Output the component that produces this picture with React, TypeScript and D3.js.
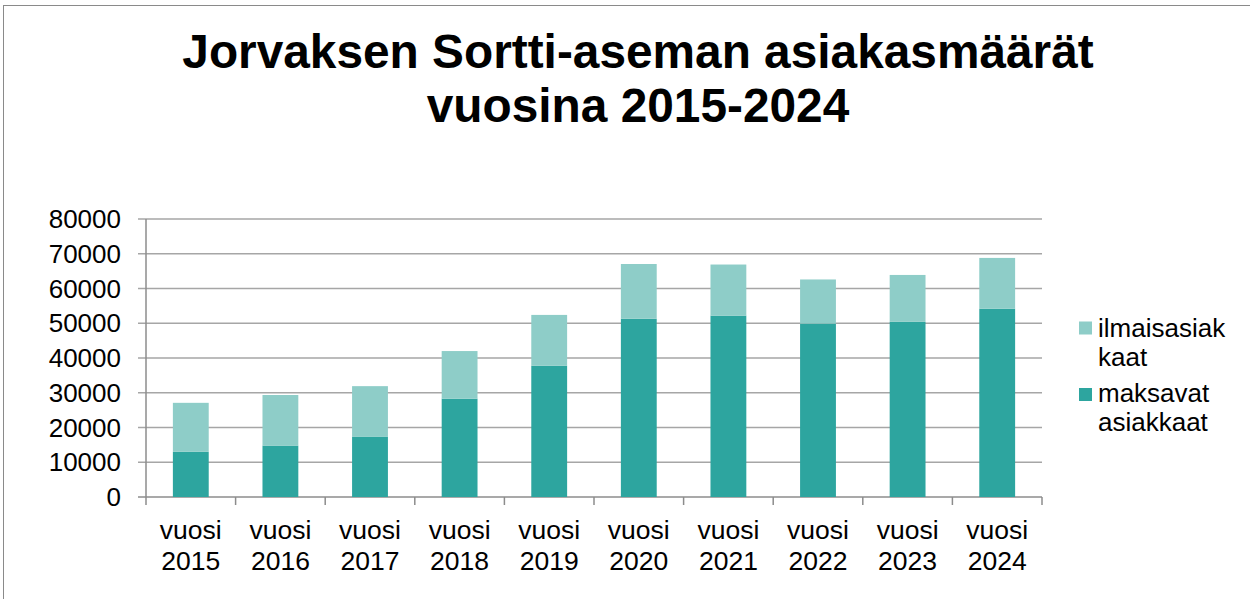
import React from "react";
import * as d3 from "d3";

const categories = ["vuosi 2015", "vuosi 2016", "vuosi 2017", "vuosi 2018", "vuosi 2019", "vuosi 2020", "vuosi 2021", "vuosi 2022", "vuosi 2023", "vuosi 2024"];
const maksavat = [13000, 14800, 17400, 28300, 37800, 51300, 52200, 49900, 50400, 54200];
const ilmaiset = [14100, 14550, 14500, 13700, 14600, 15750, 14700, 12700, 13500, 14600];
const yTicks = [0, 10000, 20000, 30000, 40000, 50000, 60000, 70000, 80000];
const seriesNames = ["ilmaisasiakkaat", "maksavat asiakkaat"];
const legendLines = [["ilmaisasiak", "kaat"], ["maksavat", "asiakkaat"]];
const titleLines = ["Jorvaksen Sortti-aseman asiakasmäärät", "vuosina 2015-2024"];

const DARK = "#2DA59F";
const LIGHT = "#8ECDC8";
const FONT = "'Liberation Sans', Arial, sans-serif";

export default function App() {
  const left = 146, right = 1042, top = 219, bottom = 497;
  const x = d3.scaleBand<string>().domain(categories).range([left, right]).paddingInner(0.6).paddingOuter(0.3);
  const xOuter = d3.scaleBand<string>().domain(categories).range([left, right]);
  const y = d3.scaleLinear().domain([0, 80000]).range([bottom, top]);

  const rows = categories.map((c, i) => ({ c, m: maksavat[i], f: ilmaiset[i] }));
  const stack = d3.stack<any>().keys(["m", "f"])(rows as any);
  const colors = [DARK, LIGHT];

  return (
    <svg width={1250} height={599} style={{ position: "absolute", left: 0, top: 0, background: "#fff" }} fontFamily={FONT}>
      <rect x={0} y={0} width={1250} height={599} fill="#fff" />
      <line x1={3} y1={5.5} x2={1250} y2={5.5} stroke="#8a8a8a" strokeWidth={1} />
      <line x1={3.5} y1={5} x2={3.5} y2={599} stroke="#8a8a8a" strokeWidth={1} />

      {titleLines.map((t, i) => (
        <text key={i} x={638} y={68 + i * 54} textAnchor="middle" fontSize={47.8} fontWeight="bold" fill="#000">{t}</text>
      ))}

      {yTicks.map((v) => (
        <g key={v}>
          <line x1={138} x2={v === 0 ? left : right} y1={y(v)} y2={y(v)} stroke={v === 0 ? "#8c8c8c" : "#a6a6a6"} strokeWidth={1.5} />
          {v === 0 && <line x1={left} x2={right} y1={y(v)} y2={y(v)} stroke="#8c8c8c" strokeWidth={1.5} />}
          <text x={121} y={y(v) + 9} textAnchor="end" fontSize={26} fill="#000">{v}</text>
        </g>
      ))}

      {stack.map((s, si) => (
        <g key={si}>
          {s.map((d: any, i: number) => (
            <rect key={i} x={x(categories[i])} width={x.bandwidth()} y={y(d[1])} height={y(d[0]) - y(d[1])} fill={colors[si]} />
          ))}
        </g>
      ))}

      <line x1={left} x2={left} y1={top} y2={bottom + 8} stroke="#8c8c8c" strokeWidth={1.5} />
      {categories.map((c) => (
        <line key={c} x1={(xOuter(c) as number) + xOuter.bandwidth()} x2={(xOuter(c) as number) + xOuter.bandwidth()} y1={bottom} y2={bottom + 8} stroke="#8c8c8c" strokeWidth={1.5} />
      ))}
      {categories.map((c) => {
        const cx = (xOuter(c) as number) + xOuter.bandwidth() / 2;
        const parts = c.split(" ");
        return (
          <g key={c}>
            <text x={cx} y={538.5} textAnchor="middle" fontSize={26.5} fill="#000">{parts[0]}</text>
            <text x={cx} y={569.5} textAnchor="middle" fontSize={26.5} fill="#000">{parts[1]}</text>
          </g>
        );
      })}

      {seriesNames.map((n, i) => (
        <g key={n}>
          <rect x={1079} y={321.5 + i * 66.5} width={13} height={13} fill={i === 0 ? LIGHT : DARK} />
          {legendLines[i].map((l, j) => (
            <text key={j} x={1098} y={336.5 + i * 65 + j * 29.5} fontSize={26} fill="#000">{l}</text>
          ))}
        </g>
      ))}
    </svg>
  );
}
